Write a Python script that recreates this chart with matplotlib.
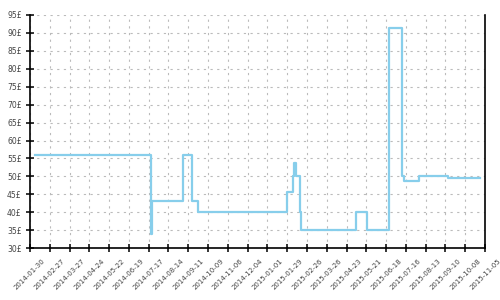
import numpy as np
import pandas as pd
import matplotlib
matplotlib.use('Agg')
import matplotlib.pyplot as plt
import matplotlib.dates as mdates

# price history (change dates and price in pounds)
dates = ['2014-02-06', '2014-07-20', '2014-07-21', '2014-09-04', '2014-09-17',
         '2014-09-25', '2015-01-29', '2015-02-06', '2015-02-08', '2015-02-10',
         '2015-02-16', '2015-02-18', '2015-05-06', '2015-05-22', '2015-06-22',
         '2015-07-10', '2015-07-13', '2015-08-03', '2015-09-13', '2015-10-29']
prices = [56, 34, 43, 56, 43,
          40, 45.7, 50, 53.8, 50,
          40, 35, 40, 35, 91.5,
          50, 48.6, 50, 49.5, 49.5]

y_ticks = list(range(30, 100, 5))
x_start = '2014-01-30'
x_end = '2015-11-05'

dates = pd.to_datetime(dates)
tick_dates = pd.date_range(x_start, x_end, freq='28D')

fig = plt.figure(figsize=(5, 3), dpi=100)
ax = fig.add_axes([0.06, 0.173, 0.91, 0.777])

ax.plot(dates, prices, drawstyle='steps-post', color='#87CEEB', linewidth=1.6)

ax.set_xlim(pd.Timestamp(x_start), pd.Timestamp(x_end))
ax.set_ylim(30, 95)
ax.set_yticks(y_ticks)
ax.set_yticklabels([f'{v}£' for v in y_ticks])
ax.set_xticks(tick_dates)
ax.xaxis.set_major_formatter(mdates.DateFormatter('%Y-%m-%d'))
plt.setp(ax.get_xticklabels(), rotation=45, ha='center', va='top')

ax.grid(True, color='#bbbbbb', linestyle=(0, (2, 4)), linewidth=0.8)
ax.set_axisbelow(True)

ax.spines['top'].set_visible(False)
for s in ['left', 'bottom', 'right']:
    ax.spines[s].set_color('black')
    ax.spines[s].set_linewidth(1.2)

ax.tick_params(axis='both', direction='inout', length=6, width=1.1,
               labelcolor='#444444')
ax.tick_params(axis='x', labelsize=5, pad=4)
ax.tick_params(axis='y', labelsize=5.5, pad=3)

fig.savefig('out.png', dpi=100)
